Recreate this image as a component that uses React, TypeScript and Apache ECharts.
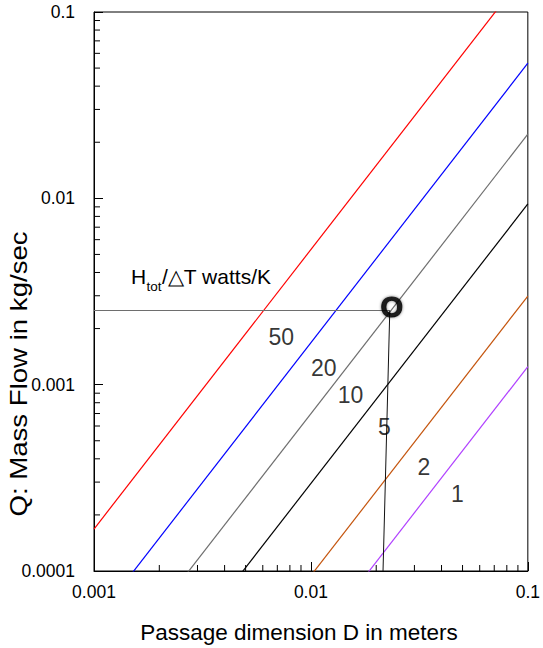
import React, { useEffect, useRef } from "react";
import * as echarts from "echarts";

const FONT = "'Liberation Sans', Arial, Helvetica, sans-serif";

// axis ranges and tick labels
const xTickValues = [0.001, 0.01, 0.1];
const xTickLabels = ["0.001", "0.01", "0.1"];
const yTickValues = [0.0001, 0.001, 0.01, 0.1];
const yTickLabels = ["0.0001", "0.001", "0.01", "0.1"];
const xMinorTicks = [0.002, 0.003, 0.004, 0.005, 0.006, 0.007, 0.008, 0.009, 0.02, 0.03, 0.04, 0.05, 0.06, 0.07, 0.08, 0.09];
const yMinorTicks = [0.0002, 0.0003, 0.0004, 0.0005, 0.0006, 0.0007, 0.0008, 0.0009, 0.002, 0.003, 0.004, 0.005, 0.006, 0.007, 0.008, 0.009, 0.02, 0.03, 0.04, 0.05, 0.06, 0.07, 0.08, 0.09];

// curves: Q (kg/s) at D = 0.001 m and D = 0.1 m, one per H/ΔT value
const curveD = [0.001, 0.1];
const curveNames = ["50", "20", "10", "5", "2", "1"];
const q50 = [0.000168, 0.168];
const q20 = [0.0000531, 0.0531];
const q10 = [0.0000221, 0.0221];
const q5 = [0.00000933, 0.00933];
const q2 = [0.00000299, 0.00299];
const q1 = [0.00000125, 0.00125];
const curveQ = [q50, q20, q10, q5, q2, q1];
const curveColors = ["#ff0000", "#0000ff", "#6e6e6e", "#000000", "#c4540c", "#b040ff"];

// curve label anchor positions (D, Q)
const labelD = [0.0073, 0.01146, 0.01524, 0.0218, 0.0332, 0.0474];
const labelQ = [0.0018, 0.00123, 0.00088, 0.000593, 0.000361, 0.000259];

// design point guide lines
const designQ = 0.0025;
const designD = 0.0231;
const guideStartD = 0.001;
const guideEndD = 0.0215;
const guideEndQ = 0.0001;

function fmt(values: number[], labels: string[]) {
  return (v: number) => {
    for (let i = 0; i < values.length; i++) {
      if (Math.abs(Math.log10(v) - Math.log10(values[i])) < 1e-6) return labels[i];
    }
    return "";
  };
}

export default function App() {
  const ref = useRef<HTMLDivElement>(null);
  useEffect(() => {
    if (!ref.current) return;
    const chart = echarts.init(ref.current, null, { renderer: "svg" });
    const curveSeries = curveQ.map((q, i) => ({
      type: "line",
      name: curveNames[i],
      data: curveD.map((d, j) => [d, q[j]]),
      showSymbol: false,
      symbol: "none",
      clip: true,
      lineStyle: { color: curveColors[i], width: 1.2 },
      z: 3,
    }));
    chart.setOption({
      animation: false,
      grid: { left: 94, top: 12, right: 11, bottom: 77, show: true, borderColor: "#000", borderWidth: 1, backgroundColor: "transparent" },
      xAxis: {
        type: "log",
        logBase: 10,
        min: 0.001,
        max: 0.1,
        axisLine: { show: true, lineStyle: { color: "#000", width: 1 } },
        axisTick: { show: true, inside: true, length: 9, lineStyle: { color: "#000" } },
        splitLine: { show: false },
        minorTick: { show: false },
        axisLabel: { formatter: fmt(xTickValues, xTickLabels), color: "#000", fontSize: 17.5, fontFamily: FONT, margin: 12 },
      },
      yAxis: {
        type: "log",
        logBase: 10,
        min: 0.0001,
        max: 0.1,
        axisLine: { show: true, lineStyle: { color: "#000", width: 1 } },
        axisTick: { show: true, inside: true, length: 9, lineStyle: { color: "#000" } },
        splitLine: { show: false },
        minorTick: { show: false },
        axisLabel: { formatter: fmt(yTickValues, yTickLabels), color: "#000", fontSize: 17.5, fontFamily: FONT, margin: 19 },
      },
      series: [
        ...curveSeries,
        {
          type: "line",
          name: "guideH",
          data: [[guideStartD, designQ], [designD, designQ]],
          symbol: "none",
          lineStyle: { color: "#6e6e6e", width: 1.2 },
          z: 4,
        },
        {
          type: "line",
          name: "guideV",
          data: [[designD, designQ], [guideEndD, guideEndQ]],
          symbol: "none",
          lineStyle: { color: "#111", width: 1 },
          z: 4,
        },
        {
          type: "scatter",
          name: "design",
          data: [[designD, designQ]],
          symbolSize: 0,
          z: 6,
          label: {
            show: true,
            position: "inside",
            offset: [2, -4],
            formatter: "O",
            color: "#000",
            fontSize: 29,
            fontWeight: "bold",
            fontFamily: FONT,
            textBorderColor: "#000",
            textBorderWidth: 1,
            textShadowColor: "rgba(0,0,0,0.6)",
            textShadowBlur: 3,
          },
        },
        {
          type: "scatter",
          name: "curveLabels",
          data: labelD.map((d, i) => ({ value: [d, labelQ[i]], name: curveNames[i] })),
          symbolSize: 0,
          z: 6,
          label: {
            show: true,
            position: "inside",
            formatter: "{b}",
            color: "#000",
            fontSize: 23,
            fontFamily: FONT,
          },
        },
        {
          type: "custom",
          name: "xMinor",
          data: xMinorTicks.map((v) => [v, 0.0001]),
          renderItem: (params: any, api: any) => {
            const p = api.coord([api.value(0), api.value(1)]);
            return { type: "line", shape: { x1: p[0], y1: p[1], x2: p[0], y2: p[1] - 6 }, style: { stroke: "#000", lineWidth: 1 } };
          },
          z: 5,
        },
        {
          type: "custom",
          name: "yMinor",
          data: yMinorTicks.map((v) => [0.001, v]),
          renderItem: (params: any, api: any) => {
            const p = api.coord([api.value(0), api.value(1)]);
            return { type: "line", shape: { x1: p[0], y1: p[1], x2: p[0] + 6, y2: p[1] }, style: { stroke: "#000", lineWidth: 1 } };
          },
          z: 5,
        },
      ],
      graphic: [
        { type: "text", left: 131, top: 266, style: { text: "H", fontSize: 21, fontFamily: FONT, fill: "#000" } },
        { type: "text", left: 146.5, top: 279, style: { text: "tot", fontSize: 13.5, fontFamily: FONT, fill: "#000" } },
        { type: "text", left: 162, top: 266, style: { text: "/△T watts/K", fontSize: 21, fontFamily: FONT, fill: "#000" } },
        {
          type: "text",
          x: 299,
          y: 632,
          style: { text: "Passage dimension D in meters", fontSize: 22.5, fontFamily: FONT, fill: "#000", align: "center", verticalAlign: "middle" },
        },
        {
          type: "text",
          x: 19,
          y: 374,
          rotation: Math.PI / 2,
          scaleX: 1.2,
          style: { text: "Q: Mass Flow in kg/sec", fontSize: 23, fontFamily: FONT, fill: "#000", align: "center", verticalAlign: "middle" },
        },
      ],
    });
    return () => chart.dispose();
  }, []);
  return <div ref={ref} style={{ position: "absolute", left: 0, top: 0, width: 543, height: 648 }} />;
}
